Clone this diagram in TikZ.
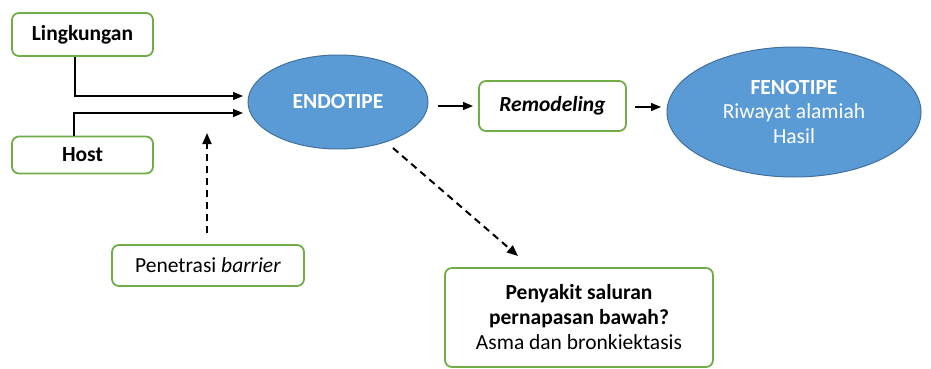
\documentclass[tikz,border=0pt]{standalone}
\usepackage{fontspec}
\setmainfont{Carlito}
\usetikzlibrary{arrows.meta,shapes.geometric}
\definecolor{boxgreen}{RGB}{112,173,71}
\definecolor{blobfill}{RGB}{91,155,213}
\definecolor{blobline}{RGB}{65,113,156}
\begin{document}
\begin{tikzpicture}[x=1pt, y=1pt,
        every node/.style={font=\fontsize{21.5}{25}\selectfont},
        box/.style={draw=boxgreen, line width=1.8pt, rounded corners=7pt, fill=white, inner sep=0pt},
        blob/.style={ellipse, draw=blobline, line width=1pt, fill=blobfill, text=white, inner sep=0pt},
        tip/.style={-{Triangle[length=10pt, width=8pt]}, line width=1.2pt},
        dashtip/.style={-{Triangle[length=11pt, width=9pt]}, line width=2pt, dash pattern=on 7pt off 5pt}]
        \useasboundingbox (0, 0) rectangle (931, -369);
        \node[box, minimum width=141, minimum height=43] (ling) at (82.5, -34.5) {\textbf{Lingkungan}};
        \node[box, minimum width=141, minimum height=37] (host) at (82.5, -155) {\textbf{Host}};
        \node[blob, minimum width=180, minimum height=94] (endo) at (338, -102) {\textbf{ENDOTIPE}};
        \node[box, minimum width=147, minimum height=50] (remod) at (552.5, -106) {\textbf{\textit{Remodeling}}};
        \node[blob, minimum width=254, minimum height=130, align=center] (feno) at (794, -112)
            {\textbf{FENOTIPE}\\[-1pt]Riwayat alamiah\\Hasil};
        \node[box, minimum width=192, minimum height=41] (pene) at (208, -265.5) {Penetrasi \textit{barrier}};
        \node[box, minimum width=268, minimum height=99, align=center] (sakit) at (579, -317.5)
            {\textbf{Penyakit saluran}\\\textbf{pernapasan bawah?}\\Asma dan bronkiektasis};
        % free ends of the connectors
        \coordinate (lingend) at (243, -96);
        \coordinate (hostend) at (243, -113);
        \coordinate (endoout) at (438, -106);
        \coordinate (remodin) at (473, -106);
        \coordinate (remodout) at (635, -107);
        \coordinate (fenoin) at (661, -107);
        \coordinate (penestart) at (207, -233);
        \coordinate (peneend) at (207, -133);
        \coordinate (endostart) at (393, -148);
        \coordinate (sakitend) at (518, -256);
        \draw[tip] (ling.south -| 75, 0) |- (lingend);
        \draw[tip] (host.north -| 74, 0) |- (hostend);
        \draw[tip] (endoout) -- (remodin);
        \draw[tip] (remodout) -- (fenoin);
        \draw[dashtip] (penestart) -- (peneend);
        \draw[dashtip] (endostart) -- (sakitend);
\end{tikzpicture}
\end{document}
